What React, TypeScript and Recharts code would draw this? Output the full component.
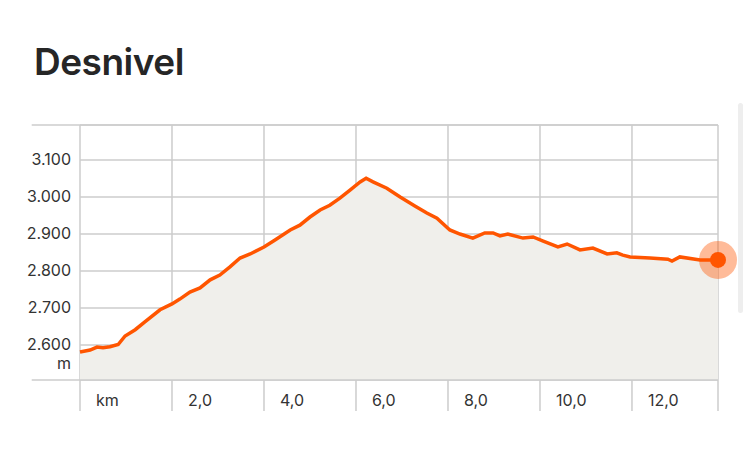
import React from 'react';
import {
  AreaChart,
  Area,
  XAxis,
  YAxis,
  CartesianGrid,
  ReferenceLine,
  ReferenceDot,
} from 'recharts';

// distance along the route (km)
const distanceKm = [
  0, 0.22, 0.37, 0.5, 0.65, 0.83, 0.98, 1.2, 1.41, 1.74, 2.0, 2.17, 2.39, 2.61,
  2.83, 3.04, 3.26, 3.48, 3.7, 4.0, 4.24, 4.57, 4.78, 5.0, 5.22, 5.43, 5.65,
  5.87, 6.09, 6.22, 6.37, 6.67, 6.96, 7.28, 7.54, 7.76, 8.04, 8.26, 8.54, 8.8,
  8.98, 9.13, 9.3, 9.63, 9.85, 10.07, 10.39, 10.59, 10.87, 11.15, 11.46, 11.67,
  11.8, 11.96, 12.39, 12.78, 12.87, 13.04, 13.48, 13.87,
];

// elevation (m)
const elevationM = [
  2581, 2586, 2594, 2592, 2595, 2601, 2624, 2641, 2662, 2695, 2711, 2724, 2743,
  2754, 2776, 2789, 2811, 2835, 2846, 2865, 2884, 2911, 2924, 2946, 2965, 2978,
  2997, 3019, 3041, 3051, 3041, 3024, 3000, 2976, 2957, 2943, 2911, 2900, 2889,
  2903, 2903, 2895, 2900, 2889, 2892, 2881, 2865, 2873, 2857, 2862, 2846, 2849,
  2843, 2838, 2835, 2832, 2827, 2838, 2830, 2830,
];

const xTicks = [0, 2, 4, 6, 8, 10, 12, 13.87];
const yTicks = [2600, 2700, 2800, 2900, 3000, 3100];
const yDomain = [2505, 3195];
const xDomain = [0, 13.87];

const data = distanceKm.map((km, i) => ({ km, ele: elevationM[i] }));
const last = data[data.length - 1];

const ORANGE = '#ff5500';
const GRID = '#cccccc';
const LABEL = '#333333';
const FONT = 'Inter, "Noto Sans", sans-serif';

const formatElevation = (v: number) =>
  `${Math.floor(v / 1000)}.${String(v % 1000).padStart(3, '0')}`;

const formatKm = (v: number) => {
  if (v === 0) return 'km';
  if (v > 13) return '';
  return v.toFixed(1).replace('.', ',');
};

const YTick = ({ x, y, payload }: any) => (
  <g>
    <text
      x={x}
      y={y}
      dy={5}
      textAnchor="end"
      fill={LABEL}
      fontSize={16}
      fontFamily={FONT}
    >
      {formatElevation(payload.value)}
    </text>
    {payload.value === yTicks[0] && (
      <text
        x={x}
        y={y}
        dy={24.5}
        textAnchor="end"
        fill={LABEL}
        fontSize={16}
        fontFamily={FONT}
      >
        m
      </text>
    )}
  </g>
);

const XTick = ({ x, y, payload }: any) => (
  <text
    x={x + 16}
    y={y}
    dy={-5}
    textAnchor="start"
    fill={LABEL}
    fontSize={16}
    fontFamily={FONT}
  >
    {formatKm(payload.value)}
  </text>
);

export default function App() {
  return (
    <div
      style={{
        position: 'absolute',
        left: 0,
        top: 0,
        width: 750,
        height: 457,
        background: '#ffffff',
        fontFamily: FONT,
        overflow: 'hidden',
      }}
    >
      <div
        style={{
          position: 'absolute',
          left: 34,
          top: 38,
          fontSize: 37,
          fontWeight: 600,
          letterSpacing: -0.5,
          color: '#262626',
          lineHeight: '48px',
        }}
      >
        Desnivel
      </div>
      <div
        style={{
          position: 'absolute',
          left: 738,
          top: 103,
          width: 5,
          height: 210,
          borderRadius: 3,
          background: '#eeeeee',
        }}
      />
      <div style={{ position: 'absolute', left: 0, top: 0 }}>
        <AreaChart
          width={750}
          height={457}
          data={data}
          margin={{ top: 125, right: 32, left: 32, bottom: 46 }}
        >
          <CartesianGrid stroke={GRID} strokeWidth={1.5} />
          <XAxis
            dataKey="km"
            type="number"
            domain={xDomain}
            ticks={xTicks}
            axisLine={false}
            tickLine={{ stroke: GRID, strokeWidth: 1.5 }}
            tickSize={31}
            tickMargin={0}
            height={31}
            tick={<XTick />}
            interval={0}
          />
          <YAxis
            type="number"
            domain={yDomain}
            ticks={yTicks}
            axisLine={false}
            tickLine={false}
            tickSize={0}
            tickMargin={9}
            width={48}
            tick={<YTick />}
            interval={0}
          />
          <ReferenceLine
            segment={[
              { x: -1.05, y: yDomain[1] },
              { x: xDomain[1], y: yDomain[1] },
            ]}
            stroke={GRID}
            strokeWidth={1.5}
            ifOverflow="visible"
          />
          <ReferenceLine
            segment={[
              { x: -1.05, y: yDomain[0] },
              { x: xDomain[1], y: yDomain[0] },
            ]}
            stroke={GRID}
            strokeWidth={1.5}
            ifOverflow="visible"
          />
          <Area
            type="linear"
            dataKey="ele"
            stroke={ORANGE}
            strokeWidth={3.5}
            fill="#f0efeb"
            fillOpacity={1}
            dot={false}
            activeDot={false}
            isAnimationActive={false}
          />
          <ReferenceDot
            x={last.km}
            y={last.ele}
            r={19}
            fill={ORANGE}
            fillOpacity={0.4}
            stroke="none"
            ifOverflow="visible"
          />
          <ReferenceDot
            x={last.km}
            y={last.ele}
            r={8}
            fill={ORANGE}
            stroke="none"
            ifOverflow="visible"
          />
        </AreaChart>
      </div>
    </div>
  );
}
